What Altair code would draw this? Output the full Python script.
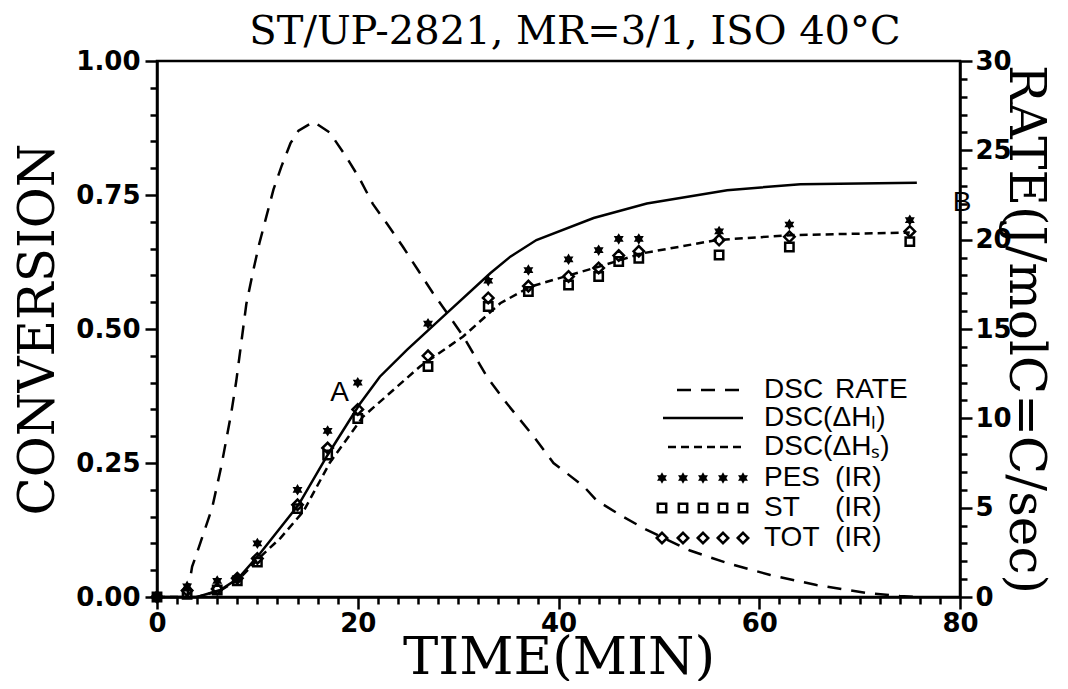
import altair as alt
import pandas as pd

# ---------------- data ----------------
rate_t = [3, 3.5, 4, 5.5, 6.4, 7.4, 7.9, 8.9, 9.6, 10.2, 10.9, 11.6, 12.4, 13.3, 14.1,
          15.6, 17.2, 18.9, 20.2, 21.5, 22.9, 24.5, 26.0, 27.5, 28.9, 30.5, 32.9, 34.9,
          37.5, 39.5, 42.5, 43.8, 46.4, 48.8, 53.1, 56.8, 61.1, 65.7, 70.7, 74, 76]
rate_v = [0, 1.7, 2.5, 5.0, 7.3, 10.3, 12.1, 16.4, 18.3, 19.8, 21.3, 22.8, 24.1, 25.4, 26.1,
          26.6, 26.0, 24.6, 23.4, 22.0, 20.9, 19.6, 18.3, 17.0, 15.9, 14.6, 12.3, 10.8,
          9.0, 7.5, 6.2, 5.4, 4.5, 3.75, 2.6, 1.9, 1.23, 0.67, 0.22, 0.05, 0]

hi_t = [0, 4, 6.3, 8.1, 10.3, 14.1, 17.0, 20.2, 22.2, 24.9, 28.9, 33.2, 35.2, 37.8,
        43.5, 48.8, 56.8, 64.1, 75.7]
hi_v = [0, 0, 0.013, 0.035, 0.082, 0.172, 0.265, 0.360, 0.411, 0.461, 0.530, 0.604,
        0.635, 0.666, 0.707, 0.734, 0.759, 0.770, 0.773]

hs_t = [0, 4, 6.3, 8.1, 10.3, 12.3, 14.6, 17.2, 20.5, 26.2, 30.5, 34.2, 37.2, 41.2,
        44.5, 48.3, 55.8, 63.1, 75.0]
hs_v = [0, 0, 0.012, 0.032, 0.075, 0.110, 0.160, 0.250, 0.336, 0.430, 0.486, 0.548,
        0.579, 0.601, 0.619, 0.641, 0.666, 0.675, 0.680]

ir_t = [0, 3, 6, 8, 10, 14, 17, 20, 27, 33, 37, 41, 44, 46, 48, 56, 63, 75]
pes = [0, 0.02, 0.03, 0.035, 0.10, 0.20, 0.31, 0.40, 0.51, 0.59, 0.61, 0.63, 0.647,
       0.668, 0.668, 0.682, 0.695, 0.703]
st = [0, 0.005, 0.013, 0.03, 0.065, 0.165, 0.265, 0.333, 0.43, 0.542, 0.57, 0.582,
      0.598, 0.626, 0.632, 0.638, 0.653, 0.663]
tot = [0, 0.012, 0.015, 0.035, 0.072, 0.172, 0.278, 0.35, 0.45, 0.558, 0.58, 0.598,
       0.614, 0.637, 0.645, 0.666, 0.672, 0.682]

marks_txt = ["A", "B"]
marks_t = [18.2, 80.2]
marks_v = [0.381, 0.735]

title_txt = "ST/UP-2821,  MR=3/1,  ISO  40°C"
legend_col1 = ["DSC", "DSC(ΔHₗ)", "DSC(ΔHₛ)", "PES", "ST", "TOT"]
legend_col2 = ["RATE", "", "", "(IR)", "(IR)", "(IR)"]

# ---------------- styling ----------------
W, H = 803, 536
SERIF = "DejaVu Serif"
SANS = "Liberation Sans"
TICKFONT = "DejaVu Sans"
HEX = ("M0,-1L0.3,-0.5L0.87,-0.5L0.58,0L0.87,0.5L0.3,0.5L0,1L-0.3,0.5"
       "L-0.87,0.5L-0.58,0L-0.87,-0.5L-0.3,-0.5Z")

common_axis = dict(domainColor="black", domainWidth=2.5, tickColor="black", tickWidth=2.5,
                   labelColor="black", labelFont=TICKFONT, labelFontWeight="bold",
                   labelFontSize=26, labelOverlap=False, labelFlush=False, grid=False,
                   titleColor="black", titleFont=SERIF, titleFontWeight="normal")

x_axis = alt.Axis(values=list(range(0, 81, 2)),
                  labelExpr="datum.value % 20 == 0 ? datum.label : ''",
                  tickSize={"condition": {"test": "datum.value % 20 == 0", "value": 12}, "value": 7},
                  labelPadding=1, title="TIME(MIN)", titleFontSize=53,
                  titleX=W / 2, titleY=76, titleAlign="center", titleBaseline="alphabetic",
                  **common_axis)
x_enc = alt.X("t:Q", scale=alt.Scale(domain=[0, 80], nice=False, zero=False), axis=x_axis)

y_axis = alt.Axis(values=[round(i * 0.05, 2) for i in range(21)], orient="left",
                  labelExpr="abs(datum.value*4-round(datum.value*4))<0.000001 ? format(datum.value,'.2f') : ''",
                  tickSize={"condition": {"test": "abs(datum.value*4-round(datum.value*4))<0.000001", "value": 12}, "value": 7},
                  labelPadding=5, title="CONVERSION", titleFontSize=50,
                  titleX=-119, titleY=H / 2, titleAngle=-90, titleAlign="center",
                  titleBaseline="middle", **common_axis)
y_enc = alt.Y("v:Q", scale=alt.Scale(domain=[0, 1], nice=False), axis=y_axis)

r_axis = alt.Axis(values=list(range(0, 31)), orient="right",
                  labelExpr="datum.value % 5 == 0 ? datum.label : ''",
                  tickSize={"condition": {"test": "datum.value % 5 == 0", "value": 12}, "value": 7},
                  labelPadding=3, title="RATE(J/molC=C/sec)", titleFontSize=50,
                  titleX=64, titleY=H / 2, titleAngle=90, titleAlign="center",
                  titleBaseline="middle", **common_axis)

def df(t, v):
    return pd.DataFrame({"t": t, "v": v})

hi_line = alt.Chart(df(hi_t, hi_v)).mark_line(color="black", strokeWidth=2.5).encode(x=x_enc, y=y_enc)
hs_line = alt.Chart(df(hs_t, hs_v)).mark_line(color="black", strokeWidth=2.5,
                                              strokeDash=[8, 5]).encode(x=x_enc, y=y_enc)
pes_pts = alt.Chart(df(ir_t, pes)).mark_point(shape=HEX, filled=True, size=130, color="black",
                                              opacity=1).encode(x=x_enc, y=y_enc)
st_pts = alt.Chart(df(ir_t, st)).mark_point(shape="square", filled=False, size=70, color="black",
                                            strokeWidth=2.5, opacity=1).encode(x=x_enc, y=y_enc)
tot_pts = alt.Chart(df(ir_t, tot)).mark_point(shape="diamond", filled=False, size=110, color="black",
                                              strokeWidth=2.5, opacity=1).encode(x=x_enc, y=y_enc)
ab_txt = alt.Chart(pd.DataFrame({"t": marks_t, "v": marks_v, "s": marks_txt})).mark_text(
    font=SANS, fontSize=28, color="black", align="center", baseline="middle"
).encode(x=x_enc, y=y_enc, text="s:N")

conv = alt.layer(hi_line, hs_line, st_pts, tot_pts, pes_pts, ab_txt)

rate_line = alt.Chart(df(rate_t, rate_v)).mark_line(
    color="black", strokeWidth=2.5, strokeDash=[14, 10]
).encode(x=x_enc, y=alt.Y("v:Q", scale=alt.Scale(domain=[0, 30], nice=False), axis=r_axis))

# ---------------- legend (drawn inside the plot) ----------------
row_y = [329, 357, 386, 417, 447, 477]
leg_df = pd.DataFrame({"a": legend_col1, "b": legend_col2, "py": row_y})
leg_t1 = alt.Chart(leg_df).mark_text(font=SANS, fontSize=28, color="black", align="left",
                                     baseline="middle").encode(
    x=alt.value(607), y=alt.Y("py:Q", scale=None, axis=None), text="a:N")
leg_t2 = alt.Chart(leg_df).mark_text(font=SANS, fontSize=28, color="black", align="left",
                                     baseline="middle").encode(
    x=alt.value(678), y=alt.Y("py:Q", scale=None, axis=None), text="b:N")

leg_rate = alt.Chart(pd.DataFrame({"k": [0]})).mark_rule(color="black", strokeWidth=2.5,
                                                          strokeDash=[14, 10]).encode(
    x=alt.value(520), x2=alt.value(586), y=alt.value(row_y[0]))
leg_hi = alt.Chart(pd.DataFrame({"k": [0]})).mark_rule(color="black", strokeWidth=2.5).encode(
    x=alt.value(506), x2=alt.value(586), y=alt.value(row_y[1]))
leg_hs = alt.Chart(pd.DataFrame({"k": [0]})).mark_rule(color="black", strokeWidth=2.5,
                                                        strokeDash=[8, 5]).encode(
    x=alt.value(511), x2=alt.value(586), y=alt.value(row_y[2]))

mk_x = [505, 526, 546, 566, 586]
mk_df = lambda row: pd.DataFrame({"px": mk_x, "py": [row_y[row]] * 5})
leg_pes = alt.Chart(mk_df(3)).mark_point(shape=HEX, filled=True, size=130, color="black", opacity=1).encode(
    x=alt.X("px:Q", scale=None, axis=None), y=alt.Y("py:Q", scale=None, axis=None))
leg_st = alt.Chart(mk_df(4)).mark_point(shape="square", filled=False, size=70, color="black",
                                        strokeWidth=2.5, opacity=1).encode(
    x=alt.X("px:Q", scale=None, axis=None), y=alt.Y("py:Q", scale=None, axis=None))
leg_tot = alt.Chart(mk_df(5)).mark_point(shape="diamond", filled=False, size=110, color="black",
                                         strokeWidth=2.5, opacity=1).encode(
    x=alt.X("px:Q", scale=None, axis=None), y=alt.Y("py:Q", scale=None, axis=None))

title = alt.Chart(pd.DataFrame({"s": [title_txt]})).mark_text(
    font=SERIF, fontSize=40, color="black", align="center", baseline="alphabetic"
).encode(x=alt.value(418), y=alt.value(-17), text="s:N")

chart = alt.layer(
    conv, rate_line, leg_t1, leg_t2, leg_rate, leg_hi, leg_hs, leg_pes, leg_st, leg_tot, title
).resolve_scale(y="independent").properties(
    width=W, height=H,
    autosize=alt.AutoSizeParams(type="none"),
    padding={"left": 149, "top": 53, "right": 100, "bottom": 84},
    background="white",
).configure_view(stroke="black", strokeWidth=2.5)

chart.save("out.html", embed_options={"renderer": "svg", "actions": False})
